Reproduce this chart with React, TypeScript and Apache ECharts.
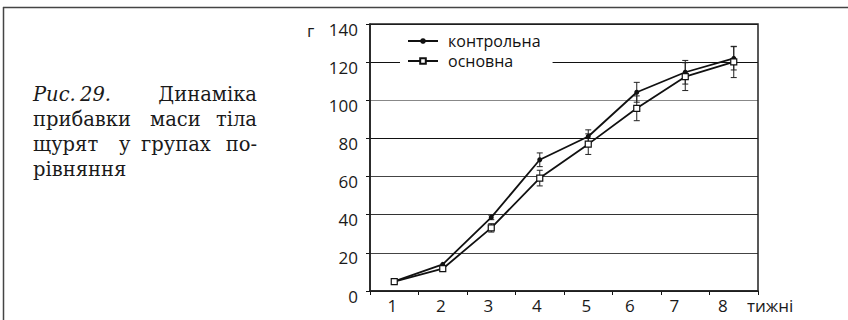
import React, { useEffect, useRef } from "react";
import * as echarts from "echarts";

// ---- data ----
const weeks = ["1", "2", "3", "4", "5", "6", "7", "8"];
const controlName = "контрольна";
const mainName = "основна";
const controlValues = [5, 14, 38.6, 68.8, 81, 104.2, 114.7, 122];
const controlErrors = [0, 0, 1.2, 3.6, 3.5, 5.2, 6.2, 6.1];
const mainValues = [4.9, 11.7, 33.1, 59.2, 77, 95.8, 112.4, 120.1];
const mainErrors = [0, 0, 2.2, 4.1, 5.4, 6.5, 7.3, 8.2];
const yMin = 0;
const yMax = 140;
const yStep = 20;
const yUnit = "г";
const xUnit = "тижні";
const captionLines = [
  [{ t: "Рис.", italic: true }, { t: "29.", italic: true }, { t: "Динаміка" }],
  [{ t: "прибавки" }, { t: "маси" }, { t: "тіла" }],
  [{ t: "щурят" }, { t: "у" }, { t: "групах" }, { t: "по-" }],
  [{ t: "рівняння" }],
];

// ---- layout / style constants ----
const SANS = "Open Sans";
const SERIF = "DejaVu Serif";
const captionWordX = [
  [33, 80, null],
  [33, 150, null],
  [33, 119, 141, null],
  [33],
];
const captionBaselines = [100, 125, 150, 175];
const labelShiftLeft = [2, 2, 3, 3, 2, 7, 11, 11];
const gridColors = ["#222", "#444", "#333", "#444", "#111", "#888", "#111", "#111"];

function errorData(values: number[], errs: number[]) {
  const out: number[][] = [];
  values.forEach((v, i) => {
    if (errs[i] > 0) out.push([i, v - errs[i], v + errs[i]]);
  });
  return out;
}

function errorSeries(values: number[], errs: number[]) {
  return {
    type: "custom",
    silent: true,
    z: 3,
    data: errorData(values, errs),
    encode: { x: 0, y: [1, 2] },
    renderItem: (_p: any, api: any) => {
      const x = api.value(0);
      const top = api.coord([x, api.value(2)]);
      const bot = api.coord([x, api.value(1)]);
      const w = 3;
      const st = { stroke: "#222", lineWidth: 1 };
      return {
        type: "group",
        children: [
          { type: "line", shape: { x1: top[0], y1: top[1], x2: bot[0], y2: bot[1] }, style: st },
          { type: "line", shape: { x1: top[0] - w, y1: top[1], x2: top[0] + w, y2: top[1] }, style: st },
          { type: "line", shape: { x1: bot[0] - w, y1: bot[1], x2: bot[0] + w, y2: bot[1] }, style: st },
        ],
      };
    },
  };
}

function buildCaption() {
  const els: any[] = [];
  captionLines.forEach((line, li) => {
    line.forEach((w, wi) => {
      const isLast = wi === line.length - 1 && line.length > 1;
      const x = isLast ? 257 : captionWordX[li][wi];
      els.push({
        type: "text",
        x: x as number,
        y: captionBaselines[li] - 6,
        style: {
          text: w.t,
          fontFamily: SERIF,
          fontSize: 19.5,
          fontStyle: (w as any).italic ? "italic" : "normal",
          fill: "#1a1a1a",
          align: isLast ? "right" : "left",
          verticalAlign: "middle",
        },
      });
    });
  });
  return els;
}

export default function App() {
  const ref = useRef<HTMLDivElement>(null);
  useEffect(() => {
    if (!ref.current) return;
    const chart = echarts.init(ref.current, null, { renderer: "svg" });
    chart.setOption({
      animation: false,
      backgroundColor: "#fff",
      grid: {
        left: 370,
        right: 90,
        top: 24,
        bottom: 29,
        show: true,
        borderColor: "#222",
        borderWidth: 1.5,
        z: 1,
      },
      legend: {
        data: [controlName, mainName],
        orient: "vertical",
        left: 400,
        top: 27,
        padding: [6, 12, 4, 7],
        backgroundColor: "#fff",
        itemWidth: 30,
        itemHeight: 7,
        itemGap: 4,
        textStyle: {
          fontFamily: SANS,
          fontSize: 16,
          lineHeight: 15,
          color: "#111",
          padding: [0, 0, 0, 5],
        },
        z: 5,
      },
      xAxis: {
        type: "category",
        data: weeks.map((w, i) => ({
          value: w,
          textStyle: { padding: [0, labelShiftLeft[i] * 2, 0, 0] },
        })),
        boundaryGap: true,
        axisLine: { lineStyle: { color: "#111", width: 1.5 } },
        axisTick: { show: true, length: 4, lineStyle: { color: "#111" } },
        axisLabel: { fontFamily: SANS, fontSize: 17, color: "#1a1a1a", margin: 6 },
        splitLine: { show: false },
      },
      yAxis: {
        type: "value",
        min: yMin,
        max: yMax,
        interval: yStep,
        axisLine: { show: true, lineStyle: { color: "#111", width: 1.5 } },
        axisTick: { show: true, length: 4, lineStyle: { color: "#111" } },
        axisLabel: {
          margin: 12,
          formatter: "{a|{value}}",
          rich: {
            a: {
              fontFamily: SANS,
              fontSize: 17,
              color: "#1a1a1a",
              padding: [10, 0, 0, 0],
            },
          },
        },
        splitLine: { show: true, lineStyle: { color: gridColors, width: 1.2 } },
      },
      series: [
        errorSeries(controlValues, controlErrors),
        errorSeries(mainValues, mainErrors),
        {
          name: controlName,
          type: "line",
          data: controlValues,
          symbol: "circle",
          symbolSize: 5,
          lineStyle: { color: "#111", width: 1.8 },
          itemStyle: { color: "#111" },
          z: 4,
        },
        {
          name: mainName,
          type: "line",
          data: mainValues,
          symbol: "rect",
          symbolSize: 6,
          lineStyle: { color: "#111", width: 1.8 },
          itemStyle: { color: "#fff", borderColor: "#111", borderWidth: 1.2 },
          z: 4,
        },
      ],
      graphic: [
        { type: "line", shape: { x1: 3, y1: 7.5, x2: 848, y2: 7.5 }, style: { stroke: "#444", lineWidth: 1.5 } },
        { type: "line", shape: { x1: 3.5, y1: 7, x2: 3.5, y2: 320 }, style: { stroke: "#444", lineWidth: 1.5 } },
        {
          type: "text",
          x: 307,
          y: 30,
          style: { text: yUnit, fontFamily: SANS, fontSize: 17, fill: "#1a1a1a", verticalAlign: "middle" },
        },
        {
          type: "text",
          x: 747,
          y: 305.5,
          style: { text: xUnit, fontFamily: SANS, fontSize: 17, fill: "#1a1a1a", verticalAlign: "middle" },
        },
        ...buildCaption(),
      ],
    });
    return () => chart.dispose();
  }, []);
  return <div ref={ref} style={{ width: 848, height: 320, position: "absolute", left: 0, top: 0 }} />;
}
